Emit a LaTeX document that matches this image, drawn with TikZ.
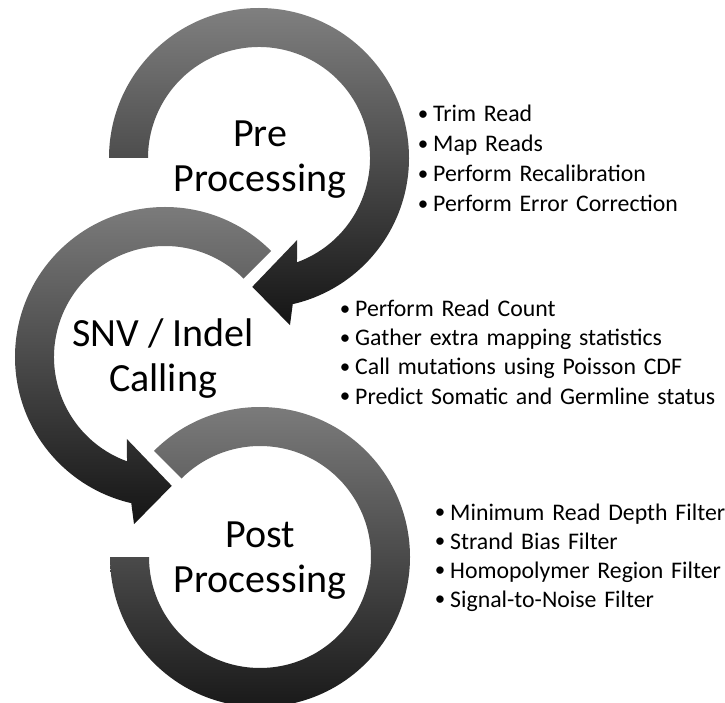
\documentclass[tikz,border=0pt]{standalone}
\usepackage{graphicx}
\usepackage{fontspec}
\setmainfont{Carlito}
\newfontfamily\itemfont{Carlito}[WordSpace=1.45]

\definecolor{ringtop}{gray}{0.50}
\definecolor{ringbottom}{gray}{0.08}

\tikzset{
  ring/.style={top color=ringtop, bottom color=ringbottom},
  stage/.style={inner sep=0pt, anchor=base, font=\fontsize{40}{45}\selectfont},
  item/.style={inner sep=0pt, anchor=base west, font=\itemfont\fontsize{23.8}{29}\selectfont},
}
\newcommand{\bul}[1]{\makebox[10pt]{\raisebox{1.4pt}{\scalebox{0.88}{\textbullet}}}\hspace{5pt}#1}

\begin{document}
\begin{tikzpicture}[x=1pt, y=1pt]
\useasboundingbox (0,0) rectangle (725,702);
\clip (0,0) rectangle (725,702);

% ring centres
\coordinate (c1) at (259,544);
\coordinate (c2) at (165,345);
\coordinate (c3) at (260,145);

% third stage: open ring, flat ends
\shade[ring] ([shift={(135:150pt)}]c3)
  arc[start angle=135, end angle=-180, radius=150pt]
  -- ([shift={(180:111pt)}]c3)
  arc[start angle=-180, end angle=135, radius=111pt] -- cycle;

% second stage: counter-clockwise arrow
\shade[ring] ([shift={(45:150pt)}]c2)
  arc[start angle=45, end angle=257, radius=150pt]
  -- ([shift={(259.5:170pt)}]c2)
  -- ([shift={(273:129pt)}]c2)
  -- ([shift={(245:90.4pt)}]c2)
  -- ([shift={(250:111pt)}]c2)
  arc[start angle=250, end angle=45, radius=111pt] -- cycle;

% first stage: clockwise arrow
\shade[ring] ([shift={(180:150pt)}]c1)
  arc[start angle=180, end angle=-77, radius=150pt]
  -- ([shift={(-79.5:170pt)}]c1)
  -- ([shift={(-93:129pt)}]c1)
  -- ([shift={(-65:90.4pt)}]c1)
  -- ([shift={(-70:111pt)}]c1)
  arc[start angle=-70, end angle=180, radius=111pt] -- cycle;

% stage titles
\node[stage] (pre) at (260,555) {\begin{tabular}[t]{@{}c@{}}Pre\\Processing\end{tabular}};
\node[stage] (snv) at (163,355) {\begin{tabular}[t]{@{}c@{}}SNV / Indel\\Calling\end{tabular}};
\node[stage] (post) at (260,155) {\begin{tabular}[t]{@{}c@{}}Post\\Processing\end{tabular}};

% pre-processing steps
\node[item] (p1) at (418,580) {\bul{Trim Read}};
\node[item] (p2) at (418,550) {\bul{Map Reads}};
\node[item] (p3) at (418,520) {\bul{Perform Recalibration}};
\node[item] (p4) at (418,490) {\bul{Perform Error Correction}};

% calling steps
\node[item] (s1) at (340,385) {\bul{Perform Read Count}};
\node[item] (s2) at (340,356) {\bul{Gather extra mapping statistics}};
\node[item] (s3) at (340,327) {\bul{Call mutations using Poisson CDF}};
\node[item] (s4) at (340,298) {\bul{Predict Somatic and Germline status}};

% post-processing filters
\node[item] (f1) at (435,182) {\bul{Minimum Read Depth Filter}};
\node[item] (f2) at (435,153) {\bul{Strand Bias Filter}};
\node[item] (f3) at (435,124) {\bul{Homopolymer Region Filter}};
\node[item] (f4) at (435,95) {\bul{Signal-to-Noise Filter}};
\end{tikzpicture}
\end{document}
